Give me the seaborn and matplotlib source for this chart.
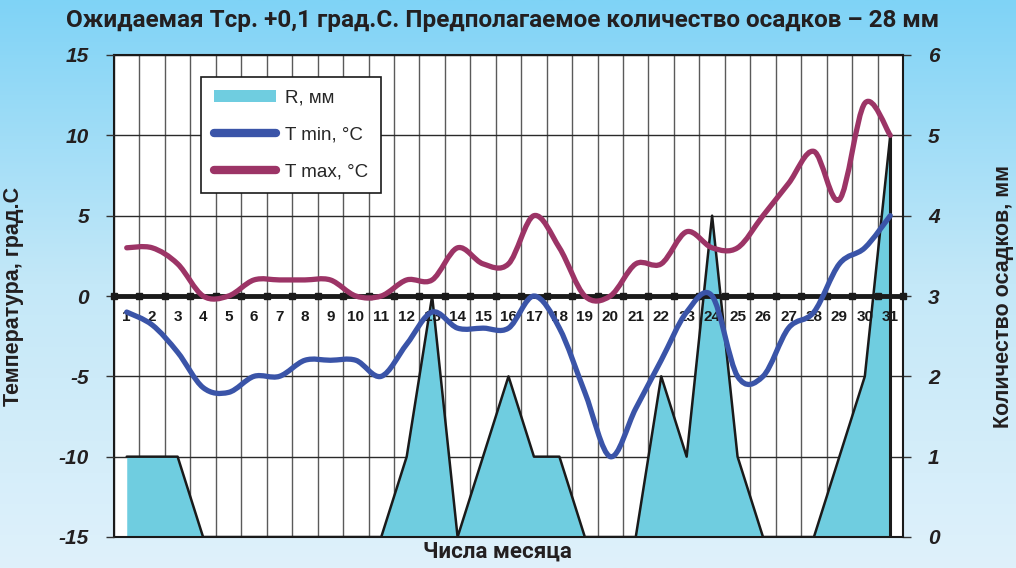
import numpy as np
import matplotlib
matplotlib.use('Agg')
import matplotlib.pyplot as plt
from matplotlib.path import Path
from matplotlib.patches import PathPatch, Patch
from matplotlib.lines import Line2D
from matplotlib.colors import LinearSegmentedColormap
import seaborn as sns

# ---------------- data ----------------
days = list(range(1, 32))
t_min = [-1, -1.8, -3.5, -5.7, -6, -5, -5, -4, -4, -4, -5, -3, -1, -2, -2, -2,
         0, -2, -6, -10, -7, -4, -1, 0, -5, -5, -2, -1, 2, 3, 5]
t_max = [3, 3, 2, 0, 0, 1, 1, 1, 1, 0, 0, 1, 1, 3, 2, 2,
         5, 3, 0, 0, 2, 2, 4, 3, 3, 5, 7, 9, 6, 12, 10]
rain = [1, 1, 1, 0, 0, 0, 0, 0, 0, 0, 0, 1, 3, 0, 1, 2,
        1, 1, 0, 0, 0, 2, 1, 4, 1, 0, 0, 0, 1, 2, 5]

temp_ticks = [-15, -10, -5, 0, 5, 10, 15]
rain_ticks = [0, 1, 2, 3, 4, 5, 6]

title = 'Ожидаемая Тср. +0,1 град.С. Предполагаемое количество осадков – 28 мм'

C_RAIN = '#6fcde0'
C_TMIN = '#3a54a8'
C_TMAX = '#9c3466'
C_TEXT = '#231f20'

sns.set_style('white')
plt.rcParams['font.family'] = ['Liberation Sans', 'DejaVu Sans']
plt.rcParams['axes.unicode_minus'] = False


def smooth_path(x, y):
    """Excel-like smoothed line as cubic bezier path through the points."""
    pts = np.column_stack([x, y]).astype(float)
    n = len(pts)
    verts = [pts[0]]
    codes = [Path.MOVETO]
    for i in range(n - 1):
        p0 = pts[i - 1] if i > 0 else pts[i]
        p1, p2 = pts[i], pts[i + 1]
        p3 = pts[i + 2] if i + 2 < n else pts[i + 1]
        verts += [p1 + (p2 - p0) / 6, p2 - (p3 - p1) / 6, p2]
        codes += [Path.CURVE4] * 3
    return Path(verts, codes)


fig = plt.figure(figsize=(10.16, 5.68), dpi=100)

# gradient background
bg = fig.add_axes([0, 0, 1, 1], zorder=-10)
cmap = LinearSegmentedColormap.from_list('sky', ['#dff1fb', '#c4e8f8', '#7fd3f6'])
bg.imshow(np.linspace(0, 1, 256).reshape(-1, 1), aspect='auto', cmap=cmap,
          origin='lower', extent=[0, 1, 0, 1])
bg.axis('off')

# rain axes (bottom layer, ticks on the right)
ax = fig.add_axes([114/1016, 1 - 537/568, 789/1016, 482/568])
ax.set_facecolor('white')
ax.set_xlim(0.5, 31.5)
ax.set_ylim(0, 6)
ax.set_axisbelow(True)
ax.set_xticks(np.arange(0.5, 32, 1), minor=True)
ax.set_xticks([])
ax.grid(True, which='minor', axis='x', color='#5a5a5a', lw=1.0)
ax.grid(True, which='major', axis='y', color='#2a2a2a', lw=1.0)
ax.tick_params(axis='x', which='both', length=0)
for s in ax.spines.values():
    s.set_color('#1a1a1a')
    s.set_linewidth(1.5)

ax.fill_between(days, 0, rain, color=C_RAIN, lw=0, zorder=2)
sns.lineplot(x=days, y=rain, ax=ax, color='#1a1a1a', lw=1.8, zorder=3)
ax.vlines(days[-1], 0, rain[-1], color='#1a1a1a', lw=2.2, zorder=3)
ax.set_xlabel('')
ax.set_ylabel('')

# temperature axes (top layer, ticks on the left)
ax2 = ax.twinx()
ax2.set_ylim(-15, 15)
ax2.set_xlim(0.5, 31.5)
ax2.yaxis.tick_left()
ax.yaxis.tick_right()
ax.set_yticks(rain_ticks)
ax2.set_yticks(temp_ticks)
for a in (ax, ax2):
    a.tick_params(axis='y', direction='out', length=6, width=1, color='#333333',
                  pad=12, labelsize=15, labelcolor=C_TEXT)
for s in ax2.spines.values():
    s.set_visible(False)

# zero line with square markers at each day boundary
bounds = np.arange(0.5, 32, 1)
ax2.plot(bounds, np.zeros_like(bounds), color='#1a1a1a', lw=3.5, marker='s',
         ms=5, clip_on=False, zorder=4, solid_capstyle='butt')

for d in days:
    ax2.text(d, -1.3, str(d), ha='center', va='center', fontsize=11,
             fontweight='bold', color='#1a1a1a', zorder=5)

ax2.add_patch(PathPatch(smooth_path(days, t_max), fill=False, edgecolor=C_TMAX,
                        lw=3.8, capstyle='round', joinstyle='round', zorder=6))
ax2.add_patch(PathPatch(smooth_path(days, t_min), fill=False, edgecolor=C_TMIN,
                        lw=3.8, capstyle='round', joinstyle='round', zorder=6))

handles = [
    Patch(facecolor=C_RAIN, edgecolor='none', label='R, мм'),
    Line2D([0], [0], color=C_TMIN, lw=6, solid_capstyle='round', label='T min, °C'),
    Line2D([0], [0], color=C_TMAX, lw=6, solid_capstyle='round', label='T max, °C'),
]
leg = ax2.legend(handles=handles, loc='upper left', bbox_to_anchor=(0.110, 0.955),
                 frameon=True, fancybox=False, framealpha=1, edgecolor='#1a1a1a',
                 fontsize=13.5, handlelength=3.3, handleheight=0.6,
                 labelspacing=1.05, borderpad=0.7, handletextpad=0.5,
                 borderaxespad=0)
leg.get_frame().set_linewidth(1.2)
leg.set_zorder(10)

# titles and labels
fig.text(0.495, 1 - 20/568, title, ha='center', va='center', fontsize=17.5,
         fontweight='bold', color=C_TEXT, family=['Roboto', 'DejaVu Sans'])
fig.text(0.49, 1 - 552/568, 'Числа месяца', ha='center', va='center',
         fontsize=16, fontweight='bold', color=C_TEXT,
         family=['Roboto', 'DejaVu Sans'])
fig.text(14/1016, 1 - 296/568, 'Температура, град.С', rotation=90,
         ha='center', va='center', fontsize=15.5, fontweight='bold', color=C_TEXT)
fig.text(1004/1016, 1 - 296/568, 'Количество осадков, мм', rotation=90,
         ha='center', va='center', fontsize=15.5, fontweight='bold', color=C_TEXT)

# bold italic tick numbers (set after ticks are built)
fig.canvas.draw()
for a in (ax, ax2):
    for lab in a.yaxis.get_ticklabels(which='major'):
        lab.set_fontweight('bold')
        lab.set_fontstyle('italic')

fig.savefig('out.png', dpi=100)
